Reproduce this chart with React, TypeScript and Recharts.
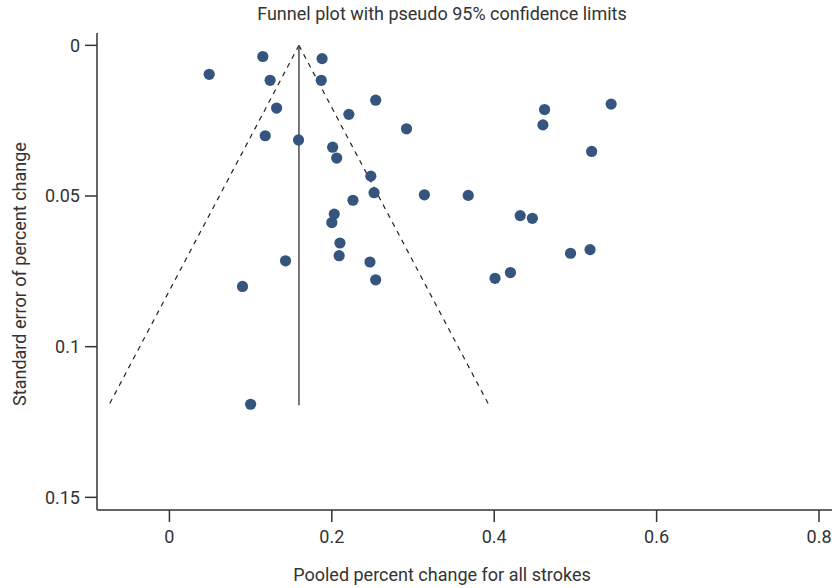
import React from 'react';
import {
  ScatterChart,
  Scatter,
  XAxis,
  YAxis,
  ReferenceLine,
  Label
} from 'recharts';

// Per-study estimates: pooled percent change and its standard error
const percentChange = [
  0.049, 0.115, 0.188, 0.124, 0.187, 0.254, 0.132, 0.221, 0.292, 0.118,
  0.159, 0.201, 0.206, 0.248, 0.252, 0.226, 0.203, 0.2, 0.21, 0.209,
  0.247, 0.254, 0.143, 0.09, 0.1, 0.462, 0.544, 0.46, 0.52, 0.314,
  0.368, 0.432, 0.447, 0.494, 0.518, 0.401, 0.42
];
const standardError = [
  0.0096, 0.0037, 0.0044, 0.0116, 0.0116, 0.0182, 0.0208, 0.0229, 0.0277, 0.03,
  0.0314, 0.0338, 0.0374, 0.0434, 0.0489, 0.0514, 0.056, 0.0588, 0.0656, 0.0698,
  0.0719, 0.0778, 0.0715, 0.08, 0.1191, 0.0213, 0.0195, 0.0264, 0.0352, 0.0496,
  0.0498, 0.0565, 0.0574, 0.069, 0.0678, 0.0773, 0.0754
];

// Pooled effect and the largest standard error that the funnel reaches
const pooledEstimate = 0.1595;
const maxStandardError = 0.1194;
const z95 = 1.96;

const xTicks = [0, 0.2, 0.4, 0.6, 0.8];
const yTicks = [0, 0.05, 0.1, 0.15];

const points = percentChange.map((x, i) => ({ x, y: standardError[i] }));

const lowerLimit = pooledEstimate - z95 * maxStandardError;
const upperLimit = pooledEstimate + z95 * maxStandardError;

const FONT = 'Roboto, "Noto Sans", sans-serif';
const TEXT = '#333';
const DOT = '#35557f';

const Dot = (props: any) => (
  <circle cx={props.cx} cy={props.cy} r={5.6} fill={DOT} />
);

const App: React.FC = () => {
  return (
    <div style={{ position: 'absolute', left: 0, top: 0, width: 833, height: 588, background: '#fff' }}>
      <div
        style={{
          position: 'absolute',
          top: 5,
          left: 442,
          transform: 'translateX(-50%)',
          whiteSpace: 'nowrap',
          fontFamily: FONT,
          fontSize: 18,
          lineHeight: '18px',
          color: TEXT
        }}
      >
        Funnel plot with pseudo 95% confidence limits
      </div>
      <ScatterChart
        width={833}
        height={588}
        margin={{ top: 33, right: 1, bottom: 0, left: 0 }}
      >
        <XAxis
          type="number"
          dataKey="x"
          domain={[-0.0892, 0.816]}
          ticks={xTicks}
          allowDataOverflow
          height={78}
          tickSize={12}
          tickMargin={8}
          tickFormatter={(v: number) => String(v)}
          tick={{ fill: TEXT, fontSize: 18, fontFamily: FONT }}
          axisLine={{ stroke: TEXT, strokeWidth: 1.5 }}
          tickLine={{ stroke: TEXT, strokeWidth: 1.5 }}
        >
          <Label
            content={() => (
              <text x={442} y={581} textAnchor="middle" fill={TEXT} fontSize={18} fontFamily={FONT}>
                Pooled percent change for all strokes
              </text>
            )}
          />
        </XAxis>
        <YAxis
          type="number"
          dataKey="y"
          reversed
          domain={[-0.0041, 0.1542]}
          ticks={yTicks}
          allowDataOverflow
          width={97}
          tickSize={12}
          tickMargin={5}
          tickFormatter={(v: number) => String(v)}
          tick={{ fill: TEXT, fontSize: 18, fontFamily: FONT }}
          axisLine={{ stroke: TEXT, strokeWidth: 1.5 }}
          tickLine={{ stroke: TEXT, strokeWidth: 1.5 }}
        >
          <Label
            content={() => (
              <text
                x={26}
                y={274}
                transform="rotate(-90 26 274)"
                textAnchor="middle"
                fill={TEXT}
                fontSize={18}
                fontFamily={FONT}
              >
                Standard error of percent change
              </text>
            )}
          />
        </YAxis>
        {/* pseudo 95% confidence limits */}
        <ReferenceLine
          segment={[{ x: pooledEstimate, y: 0 }, { x: lowerLimit, y: maxStandardError }]}
          stroke="#222"
          strokeWidth={1.2}
          strokeDasharray="5 5"
        />
        <ReferenceLine
          segment={[{ x: pooledEstimate, y: 0 }, { x: upperLimit, y: maxStandardError }]}
          stroke="#222"
          strokeWidth={1.2}
          strokeDasharray="5 5"
        />
        {/* pooled estimate */}
        <ReferenceLine
          segment={[{ x: pooledEstimate, y: 0 }, { x: pooledEstimate, y: maxStandardError }]}
          stroke="#555"
          strokeWidth={1.6}
        />
        <Scatter data={points} shape={Dot} isAnimationActive={false} />
      </ScatterChart>
    </div>
  );
};

export default App;
